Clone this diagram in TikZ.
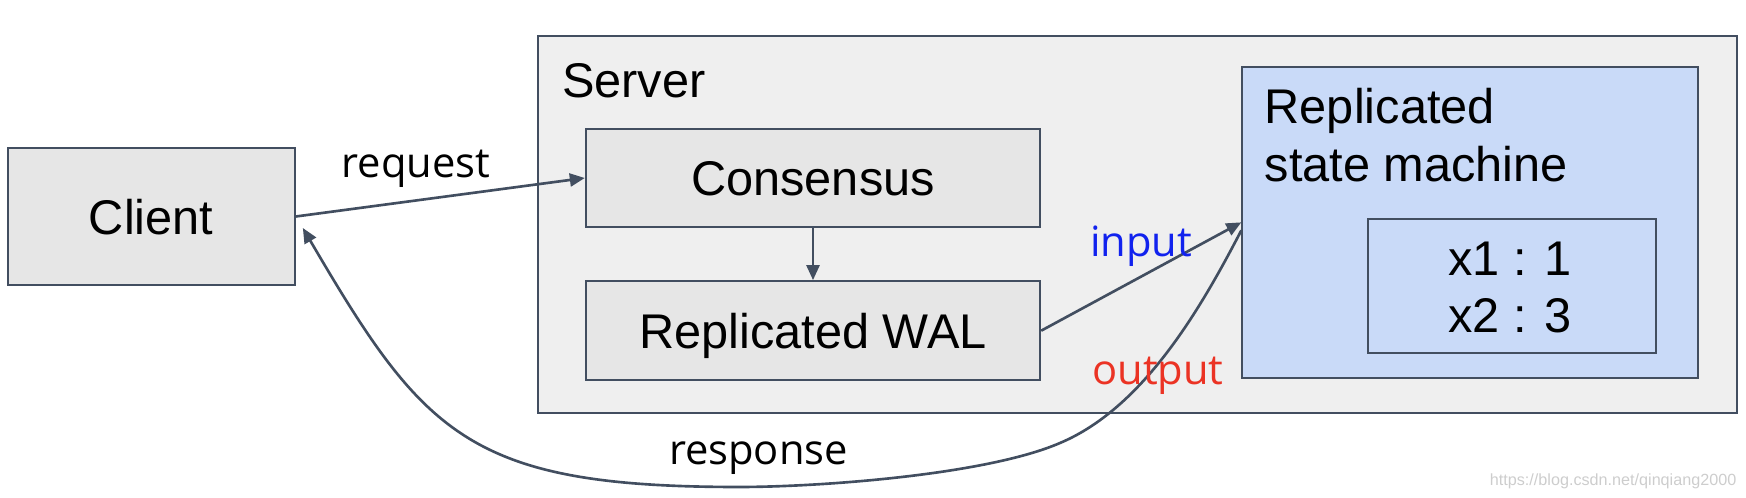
\documentclass[tikz,border=0pt]{standalone}
\usepackage{fontspec}
\setmainfont{Liberation Sans}
\newfontfamily\labelfont{Open Sans}
\usetikzlibrary{arrows.meta,positioning}
\definecolor{edgegrey}{RGB}{66,78,96}
\definecolor{servergrey}{RGB}{239,239,239}
\definecolor{boxgrey}{RGB}{230,230,230}
\definecolor{smblue}{RGB}{201,218,248}
\definecolor{inblue}{RGB}{17,34,238}
\definecolor{outred}{RGB}{235,51,36}
\definecolor{markgrey}{RGB}{205,205,205}
\tikzset{
  box/.style={draw=edgegrey, line width=0.6pt, fill=boxgrey, inner sep=0pt,
    text height=10.2pt, text depth=0pt, font=\fontsize{13.85pt}{16.4pt}\selectfont},
  txt/.style={inner sep=0pt, anchor=base west, font=\fontsize{13.85pt}{16.4pt}\selectfont},
  lbl/.style={inner sep=0pt, anchor=base, font=\labelfont\fontsize{11.85pt}{14pt}\selectfont},
  flow/.style={draw=edgegrey, line width=0.75pt, -{Triangle[length=1.5mm,width=1.3mm]}}
}
\begin{document}
\begin{tikzpicture}[x=0.01cm, y=-0.01cm]
  \useasboundingbox (0,0) rectangle (1746,498);
  \node [box, fill=servergrey, minimum width=11.985cm, minimum height=3.77cm] (server) at (1137.75,224.5) {};
  \node [txt] (servername) at (561.5,97.6) {Server};
  \node [box, minimum width=2.87cm, minimum height=1.37cm] (client) at (151.2,216.5) {Client};
  \node [box, minimum width=4.54cm, minimum height=0.98cm] (cons) at (813,178) {Consensus};
  \node [box, minimum width=4.54cm, minimum height=0.99cm, below=0.52cm of cons] (wal) {Replicated WAL};
  \node [box, fill=smblue, minimum width=4.555cm, minimum height=3.113cm] (rsm) at (1470.25,222.35) {};
  \node [txt] (rsmname1) at (1264,124) {Replicated};
  \node [txt] (rsmname2) at (1264,181.7) {state machine};
  \node [box, fill=smblue, minimum width=2.88cm, minimum height=1.34cm] (state) at (1512,286) {};
  \node [txt, anchor=base] (x1) at (1510,275.7) {x1 : 1};
  \node [txt, anchor=base] (x2) at (1510,333) {x2 : 3};

  \draw [flow] (client.east) -- (cons.west);
  \draw [flow] (cons.south) -- (wal.north);
  \draw [flow] (wal.east) -- (rsm.west);
  \coordinate (bend) at (1060,443);
  \coordinate (low) at (739,487);
  \draw [flow] ([yshift=-0.08cm]rsm.west) .. controls (1200,310) and (1143,408) .. (bend)
    .. controls (986,475) and (819,487) .. (low)
    .. controls (469,487) and (424,435) .. ([xshift=0.07cm,yshift=-0.115cm]client.east);

  \node [lbl] (reqlbl) at (416,177.3) {request};
  \node [lbl, text=inblue] (inlbl) at (1141,257) {input};
  \node [lbl, text=outred] (outlbl) at (1158,384.5) {output};
  \node [lbl] (resplbl) at (758.5,465) {response};
  \node [inner sep=0pt, anchor=base east, text=markgrey, font=\fontsize{4.6pt}{5pt}\selectfont] (mark) at (1737,486) {https://blog.csdn.net/qinqiang2000};
\end{tikzpicture}
\end{document}
